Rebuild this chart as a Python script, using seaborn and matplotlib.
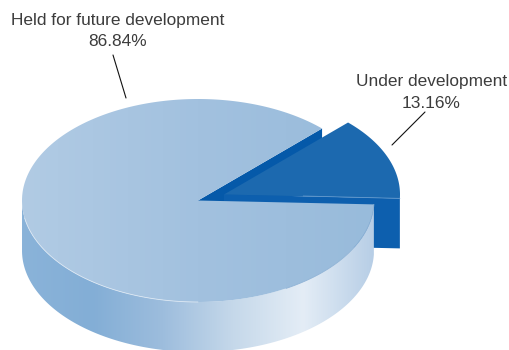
import numpy as np
import matplotlib
matplotlib.use("Agg")
import matplotlib.pyplot as plt
from matplotlib.patches import Polygon, PathPatch
from matplotlib.path import Path
import seaborn as sns

# Land bank split
categories = ["Held for future development", "Under development"]
shares = [86.84, 13.16]

sns.set_theme(style="white")
plt.rcParams["font.family"] = ["Liberation Sans", "DejaVu Sans"]

W, H = 509, 350
fig = plt.figure(figsize=(W / 100, H / 100), dpi=100)
ax = fig.add_axes([0, 0, 1, 1])
ax.set_xlim(0, W)
ax.set_ylim(H, 0)
ax.axis("off")

# Projection of the tilted disc, in pixels
CX, CY, RX, RY, DEPTH = 198, 200.5, 176, 101.5, 50
EX, EY = 26, -6        # offset of the pulled-out slice
START = -2.2           # angle where the small slice begins


def rim(t_deg, cx=CX, cy=CY):
    t = np.radians(t_deg)
    return np.column_stack([cx + RX * np.cos(t), cy - RY * np.sin(t)])


def gradient_fill(path, colors, x0, x1, zorder):
    cmap = sns.blend_palette(colors, as_cmap=True)
    grad = np.linspace(0, 1, 512).reshape(1, -1)
    im = ax.imshow(grad, cmap=cmap, extent=[x0, x1, H, 0], aspect="auto",
                   zorder=zorder, interpolation="bilinear")
    patch = PathPatch(path, transform=ax.transData, fc="none", ec="none")
    ax.add_patch(patch)
    im.set_clip_path(patch)
    ax.set_xlim(0, W)
    ax.set_ylim(H, 0)


small_sweep = shares[1] / sum(shares) * 360
small_end = START + small_sweep
big_t = np.linspace(small_end, START + 360, 500)
small_t = np.linspace(START, small_end, 120)

# Exposed cut face of the large slice, behind the pulled-out slice
p_cut = rim(np.array([small_end]))[0]
ax.add_patch(Polygon([(CX, CY), p_cut, p_cut + (0, DEPTH), (CX, CY + DEPTH)],
                     fc="#0559a9", ec="none", zorder=1))

# Front cut face of the pulled-out slice
sx, sy = CX + EX, CY + EY
q_front = rim(np.array([START]), sx, sy)[0]
ax.add_patch(Polygon([(sx, sy), q_front, q_front + (0, DEPTH), (sx, sy + DEPTH)],
                     fc="#0d5fae", ec="none", zorder=2))

# Top of the pulled-out slice
small_rim = rim(small_t, sx, sy)
ax.add_patch(Polygon(np.vstack([[sx, sy], small_rim]), fc="#1c69af",
                     ec="none", zorder=3))
ax.plot([sx + 0.45 * RX, q_front[0]], [sy + 1.5, q_front[1]], color="#5f97cc",
        lw=0.6, zorder=3.5)

# Outer wall of the large slice
front_t = np.linspace(180, START + 360, 300)
upper = rim(front_t)
wall = np.vstack([upper, (upper + (0, DEPTH))[::-1]])
gradient_fill(Path(np.vstack([wall, wall[0]]), closed=True),
              ["#8ab3d9", "#83aed6", "#9dbddd", "#c5d8ea", "#e4edf6", "#b7cee6"],
              CX - RX, CX + RX, 4)

# Top of the large slice
big_rim = rim(big_t)
top = np.vstack([[CX, CY], big_rim, [CX, CY]])
gradient_fill(Path(top, closed=True), ["#b1cbe4", "#a2c1df", "#98bbdb"],
              CX - RX, CX + RX, 5)
ax.plot(*rim(np.linspace(190, 270, 80)).T, color="#dbe7f3", lw=0.6, zorder=6)
ax.plot(*rim(np.linspace(300, START + 360, 60)).T, color="#8fb3d6", lw=0.6, zorder=6)

# Labels and leader lines
label_pos = [(118, 20), (431.5, 81.5)]
value_pos = [(118, 42), (431.5, 103)]
for name, share, lp, vp in zip(categories, shares, label_pos, value_pos):
    ax.text(*lp, name, ha="center", va="center", fontsize=12.4, color="#3c3c3c", zorder=7)
    ax.text(*vp, f"{share:.2f}%", ha="center", va="center", fontsize=12.4, color="#3c3c3c", zorder=7)
ax.plot([113, 126], [55, 98], color="#111111", lw=0.8, zorder=7)
ax.plot([392, 425], [145, 112], color="#111111", lw=0.8, zorder=7)

fig.savefig("out.png", dpi=100, facecolor="white")
